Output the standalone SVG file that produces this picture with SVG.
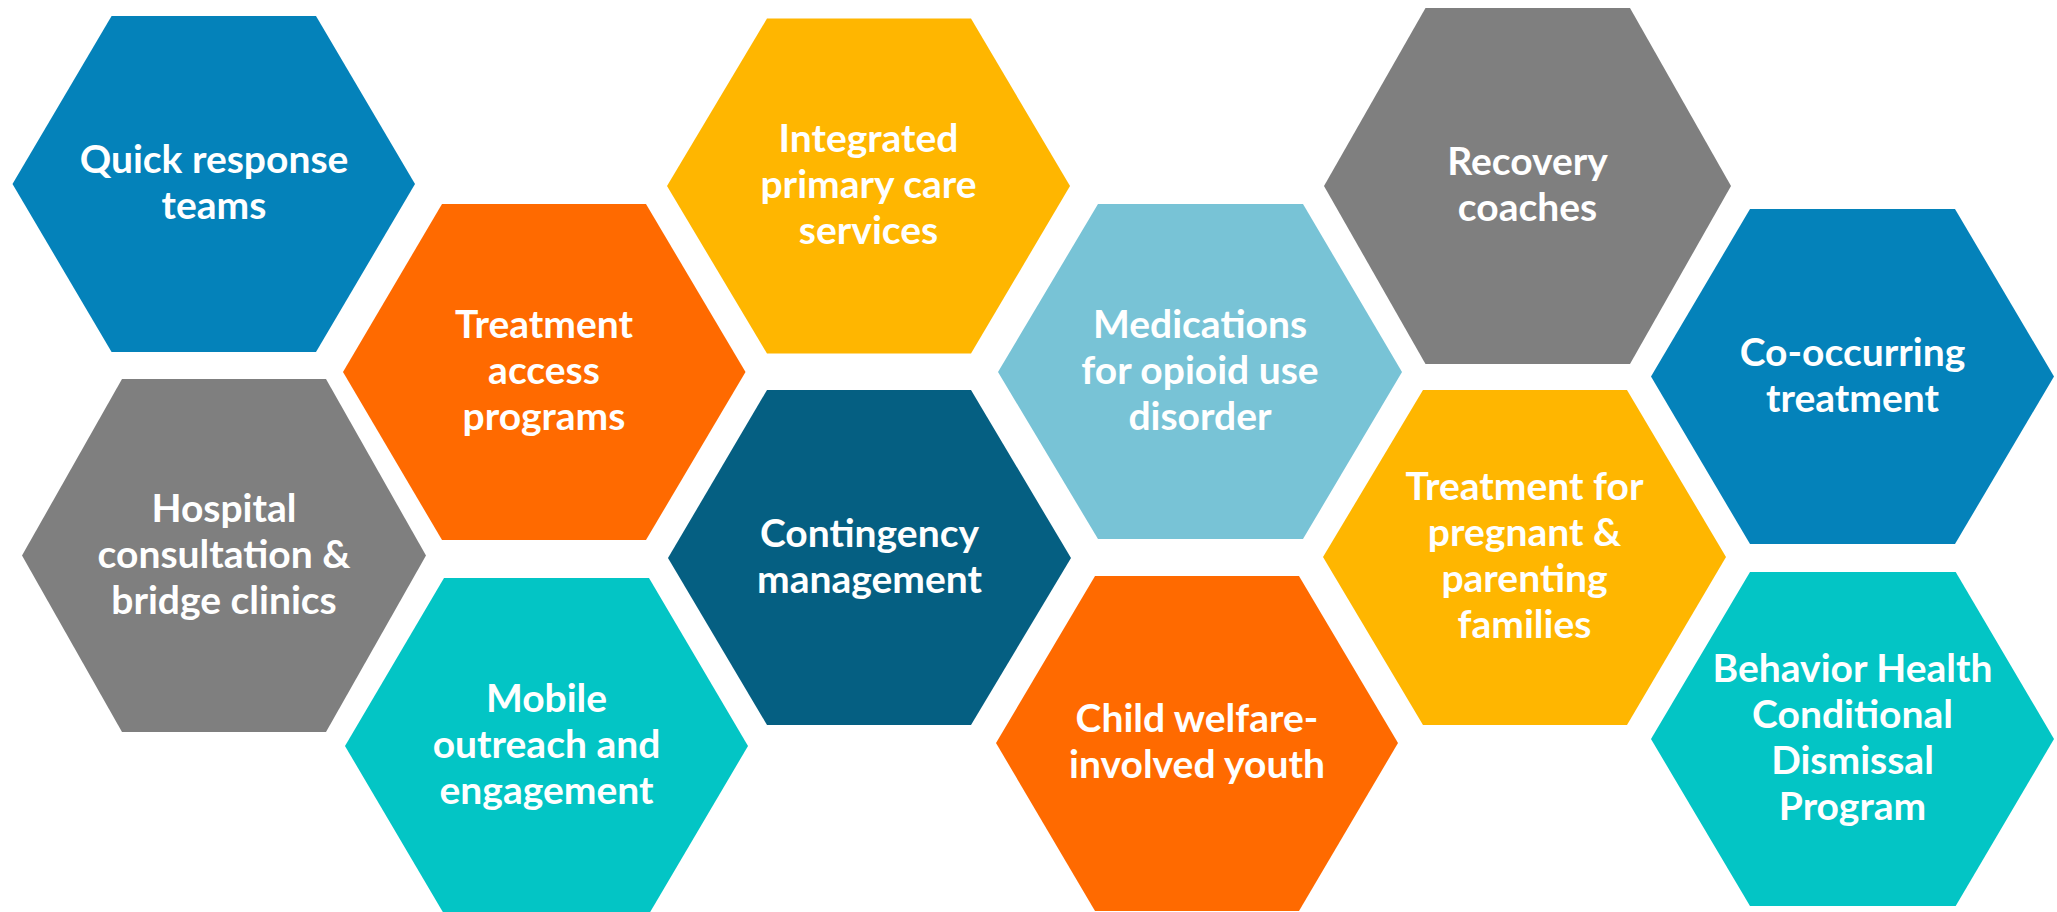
<svg xmlns="http://www.w3.org/2000/svg" width="2057" height="912" viewBox="0 0 2057 912">
<style>
.t{font-family:Lato,"Liberation Sans",sans-serif;font-weight:bold;font-size:39px;fill:#FFFFFF;text-anchor:middle}
.blue{fill:#0482BA}.orange{fill:#FF6A00}.gold{fill:#FFB600}.gray{fill:#7F7F7F}.dark{fill:#055F82}.light{fill:#78C3D6}.teal{fill:#03C5C5}
</style>
<rect width="2057" height="912" fill="#FFFFFF"/>
<g id="quick-response">
<polygon class="blue" points="12.5,184 111.6,16 316,16 415,184 316,352 111.6,352"/>
<text class="t" x="214" y="173">Quick response</text>
<text class="t" x="214" y="219">teams</text>
</g>
<g id="hospital">
<polygon class="gray" points="22,555.6 122,379 326,379 426,555.6 326,732 122,732"/>
<text class="t" x="224" y="521.6">Hospital</text>
<text class="t" x="224" y="567.6">consultation &amp;</text>
<text class="t" x="224" y="613.6">bridge clinics</text>
</g>
<g id="treatment-access">
<polygon class="orange" points="343,372 442,204 646,204 745.5,372 646,540 442,540"/>
<text class="t" x="544" y="338">Treatment</text>
<text class="t" x="544" y="384">access</text>
<text class="t" x="544" y="430">programs</text>
</g>
<g id="mobile-outreach">
<polygon class="teal" points="345,746 444,578 649,578 748,746 649,914 444,914"/>
<text class="t" x="546.5" y="712">Mobile</text>
<text class="t" x="546.5" y="758">outreach and</text>
<text class="t" x="546.5" y="804">engagement</text>
</g>
<g id="integrated-primary-care">
<polygon class="gold" points="667,186 767,18.6 971,18.6 1070,186 971,353.6 767,353.6"/>
<text class="t" x="868.5" y="152">Integrated</text>
<text class="t" x="868.5" y="198">primary care</text>
<text class="t" x="868.5" y="244">services</text>
</g>
<g id="contingency-management">
<polygon class="dark" points="668,558 767,390 971,390 1071,558 971,725 767,725"/>
<text class="t" x="869.5" y="547">Contingency</text>
<text class="t" x="869.5" y="593">management</text>
</g>
<g id="medications">
<polygon class="light" points="998,372 1098,204 1303,204 1402,372 1303,539 1098,539"/>
<text class="t" x="1200" y="338">Medications</text>
<text class="t" x="1200" y="384">for opioid use</text>
<text class="t" x="1200" y="430">disorder</text>
</g>
<g id="child-welfare">
<polygon class="orange" points="996,743 1095,576 1299,576 1398,743 1299,911 1095,911"/>
<text class="t" x="1197" y="732">Child welfare-</text>
<text class="t" x="1197" y="778">involved youth</text>
</g>
<g id="recovery-coaches">
<polygon class="gray" points="1324,186 1425.5,8 1630,8 1731,186 1630,364 1425.5,364"/>
<text class="t" x="1527.5" y="175">Recovery</text>
<text class="t" x="1527.5" y="221">coaches</text>
</g>
<g id="pregnant-parenting">
<polygon class="gold" points="1323,557 1423,390 1627,390 1726,557 1627,725 1423,725"/>
<text class="t" x="1524.5" y="500">Treatment for</text>
<text class="t" x="1524.5" y="546">pregnant &amp;</text>
<text class="t" x="1524.5" y="592">parenting</text>
<text class="t" x="1524.5" y="638">families</text>
</g>
<g id="co-occurring">
<polygon class="blue" points="1651,376.5 1750,209 1955,209 2054,376.5 1955,544 1750,544"/>
<text class="t" x="1852.5" y="365.5">Co-occurring</text>
<text class="t" x="1852.5" y="411.5">treatment</text>
</g>
<g id="behavior-health">
<polygon class="teal" points="1651,739 1750,572 1955.7,572 2054,739 1955.7,906 1750,906"/>
<text class="t" x="1852.5" y="682">Behavior Health</text>
<text class="t" x="1852.5" y="728">Conditional</text>
<text class="t" x="1852.5" y="774">Dismissal</text>
<text class="t" x="1852.5" y="820">Program</text>
</g>
<g id="connectors"></g>
</svg>
